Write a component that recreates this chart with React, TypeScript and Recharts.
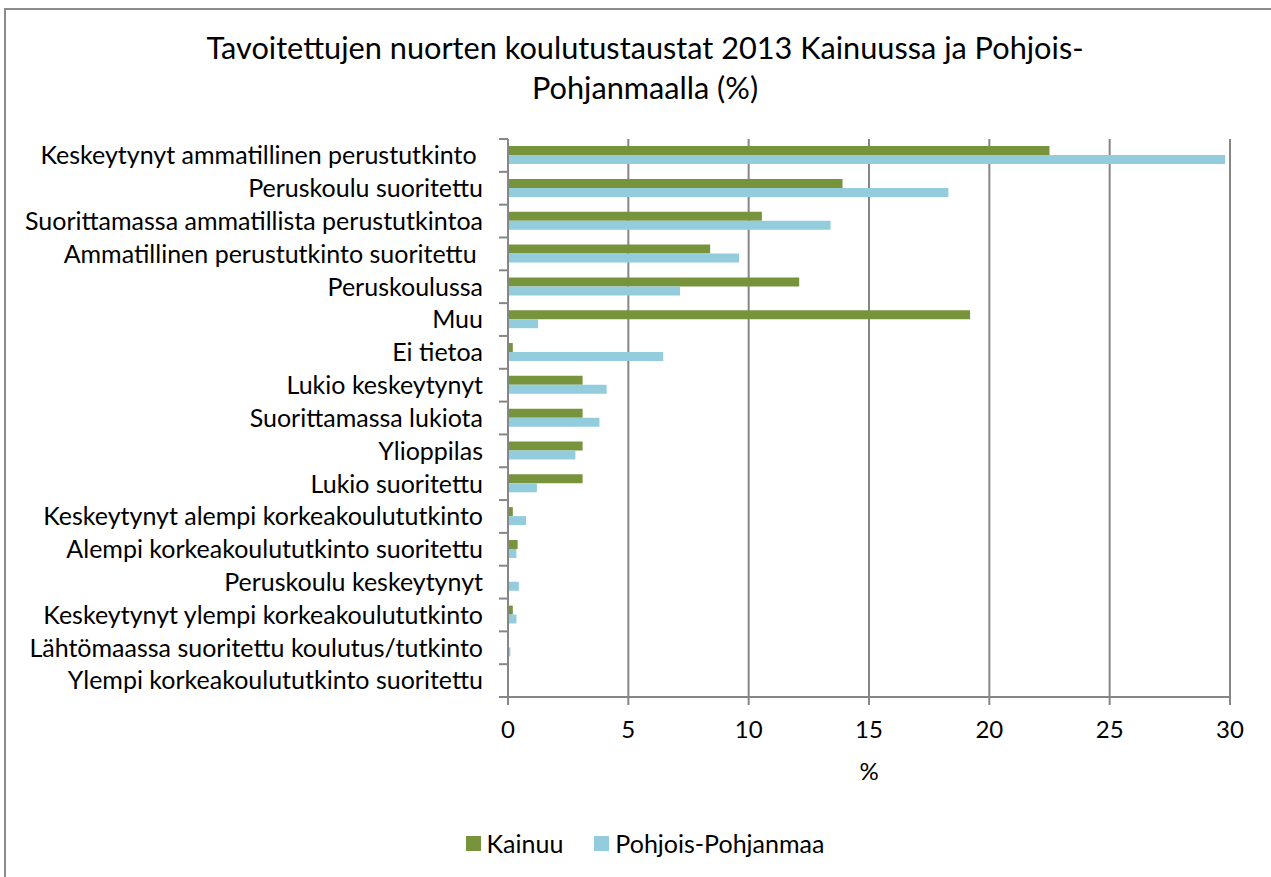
import { Bar, BarChart, CartesianGrid, XAxis, YAxis } from "recharts";

const categories = [
  "Keskeytynyt ammatillinen perustutkinto ",
  "Peruskoulu suoritettu",
  "Suorittamassa ammatillista perustutkintoa",
  "Ammatillinen perustutkinto suoritettu ",
  "Peruskoulussa",
  "Muu",
  "Ei tietoa",
  "Lukio keskeytynyt",
  "Suorittamassa lukiota",
  "Ylioppilas",
  "Lukio suoritettu",
  "Keskeytynyt alempi korkeakoulututkinto",
  "Alempi korkeakoulututkinto suoritettu",
  "Peruskoulu keskeytynyt",
  "Keskeytynyt ylempi korkeakoulututkinto",
  "Lähtömaassa suoritettu koulutus/tutkinto",
  "Ylempi korkeakoulututkinto suoritettu",
];
const kainuu = [22.5, 13.9, 10.55, 8.4, 12.1, 19.2, 0.2, 3.1, 3.1, 3.1, 3.1, 0.2, 0.4, 0, 0.2, 0, 0];
const pohjoisPohjanmaa = [29.8, 18.3, 13.4, 9.6, 7.15, 1.25, 6.45, 4.1, 3.8, 2.8, 1.2, 0.75, 0.35, 0.45, 0.35, 0.1, 0];
const xTicks = [0, 5, 10, 15, 20, 25, 30];

const FONT = "Lato, 'Open Sans', sans-serif";
const GREEN = "#77933C";
const BLUE = "#93CDDD";
const AXIS = "#868686";
const BAND_HALF = 16.4; // puolet kategorian korkeudesta

const data = categories.map((name, i) => ({
  name,
  kainuu: kainuu[i],
  pp: pohjoisPohjanmaa[i],
}));

// y-akselin tikit kategorioiden rajoille, kuten Excelissä
function CategoryTick(props: any) {
  const { x, y, payload, index } = props;
  const ax = x + 25;
  const last = index === categories.length - 1;
  return (
    <g>
      <line x1={ax - 9} x2={ax} y1={y - BAND_HALF} y2={y - BAND_HALF} stroke={AXIS} strokeWidth={2} />
      {last && <line x1={ax - 9} x2={ax} y1={y + BAND_HALF} y2={y + BAND_HALF} stroke={AXIS} strokeWidth={2} />}
      <text
        x={x}
        y={y}
        dy="0.355em"
        textAnchor="end"
        fill="#000"
        fontSize={25}
        fontFamily={FONT}
        style={{ whiteSpace: "pre" }}
      >
        {payload.value}
      </text>
    </g>
  );
}

export default function App() {
  return (
    <div
      style={{
        position: "fixed",
        left: 0,
        top: 0,
        width: 1271,
        height: 877,
        overflow: "hidden",
        background: "#fff",
        fontFamily: FONT,
      }}
    >
      <div
        style={{
          position: "absolute",
          left: 4,
          top: 8,
          width: 1320,
          height: 920,
          border: "2px solid #8c8c8c",
        }}
      />
      <div
        style={{
          position: "absolute",
          left: 0,
          top: 28,
          width: 1290,
          textAlign: "center",
          fontSize: 30.7,
          lineHeight: "40px",
          color: "#000",
        }}
      >
        Tavoitettujen nuorten koulutustaustat 2013 Kainuussa ja Pohjois-
        <br />
        Pohjanmaalla (%)
      </div>
      <BarChart
        layout="vertical"
        width={1271}
        height={877}
        data={data}
        margin={{ top: 139, right: 41, bottom: 0, left: 0 }}
        barCategoryGap="21.6%"
        barGap={0}
      >
        <CartesianGrid horizontal={false} stroke={AXIS} strokeWidth={2} />
        <XAxis
          type="number"
          domain={[0, 30]}
          ticks={xTicks}
          height={180}
          stroke={AXIS}
          strokeWidth={2}
          tickSize={8}
          tickMargin={16}
          tick={{ fill: "#000", fontSize: 24, fontFamily: FONT }}
          label={{ value: "%", position: "insideTop", offset: 66, fill: "#000", fontSize: 24, fontFamily: FONT }}
        />
        <YAxis
          type="category"
          dataKey="name"
          width={508}
          stroke={AXIS}
          strokeWidth={2}
          tickLine={false}
          tickSize={9}
          tickMargin={16}
          interval={0}
          tick={<CategoryTick />}
        />
        <Bar dataKey="kainuu" name="Kainuu" fill={GREEN} isAnimationActive={false} />
        <Bar dataKey="pp" name="Pohjois-Pohjanmaa" fill={BLUE} isAnimationActive={false} />
      </BarChart>
      <div
        style={{
          position: "absolute",
          left: 0,
          top: 828,
          width: 1290,
          display: "flex",
          justifyContent: "center",
          alignItems: "center",
          fontSize: 25,
          color: "#000",
        }}
      >
        <span style={{ display: "inline-block", width: 15, height: 15, background: GREEN, marginRight: 6 }} />
        <span style={{ marginRight: 31 }}>Kainuu</span>
        <span style={{ display: "inline-block", width: 15, height: 15, background: BLUE, marginRight: 6 }} />
        <span>Pohjois-Pohjanmaa</span>
      </div>
    </div>
  );
}
